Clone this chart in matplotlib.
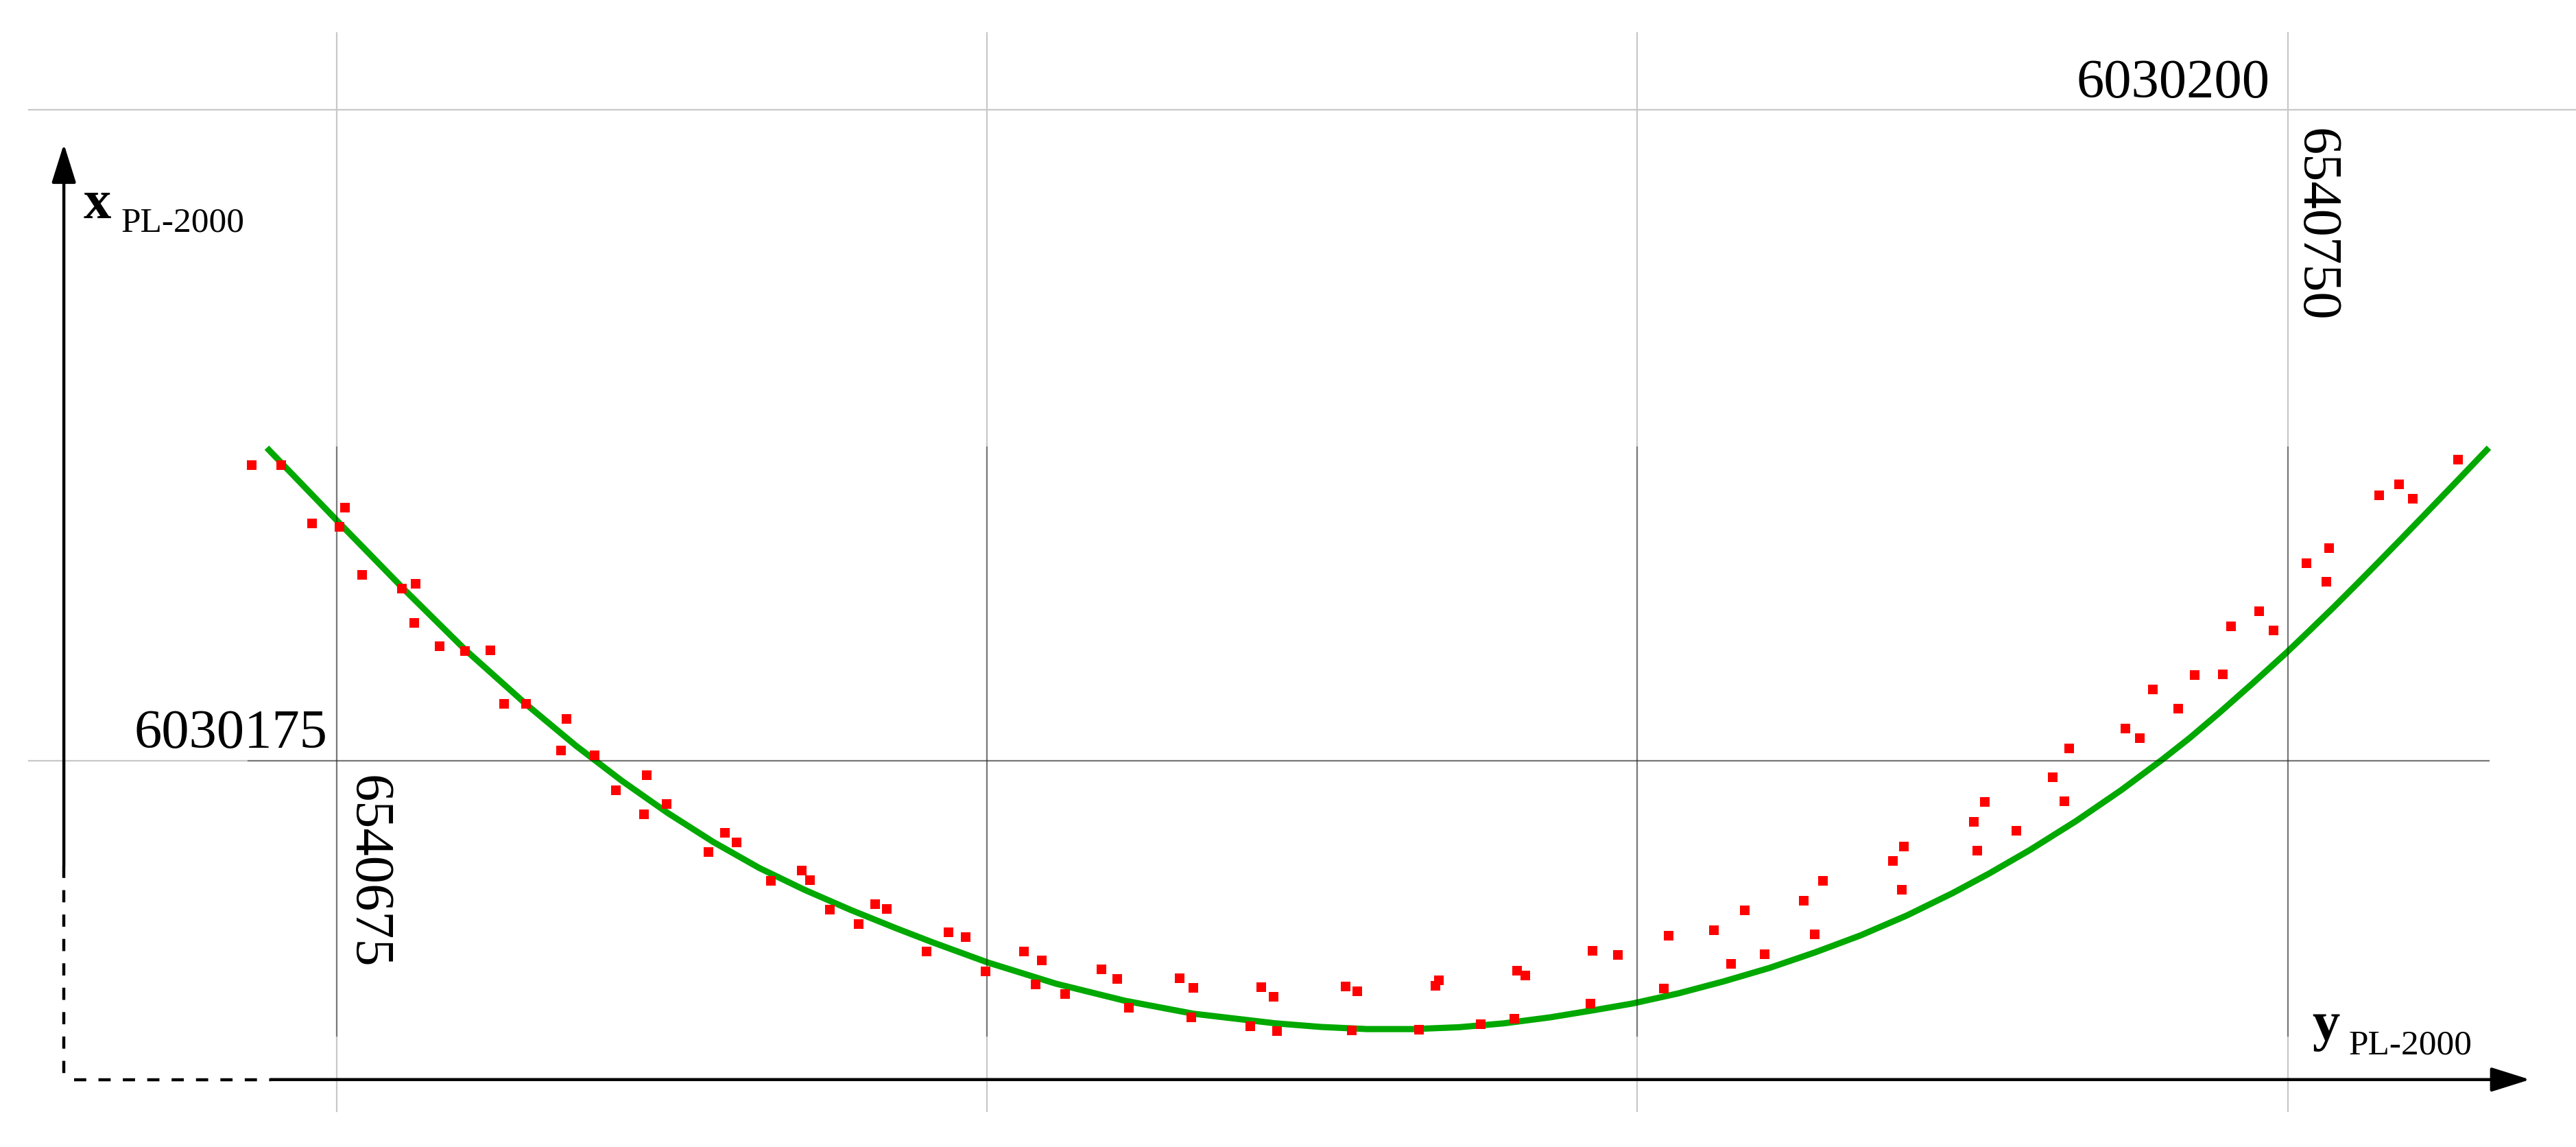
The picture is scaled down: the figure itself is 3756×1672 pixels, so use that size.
import numpy as np
import matplotlib.pyplot as plt

# grid origin in PL-2000 (metres)
E0 = 6540675   # y PL-2000, horizontal
N0 = 6030175   # x PL-2000, vertical

grid_e = [6540675, 6540700, 6540725, 6540750]
grid_n = [6030175, 6030200]

# surveyed points (offsets from the grid origin, m)
pt_e = [-3.27, -2.14, -0.95, 0.32, 0.11, 0.98, 2.50, 3.03, 2.98, 3.95,
        4.93, 5.91, 6.43, 7.28, 8.83, 8.62, 9.91, 11.92, 10.73, 12.68,
        11.81, 14.92, 15.37, 14.29, 16.69, 17.88, 18.19, 18.96, 20.06, 20.70,
        21.14, 22.67, 23.52, 24.18, 24.94, 26.42, 27.10, 26.87, 28.00, 29.40,
        30.00, 30.45, 32.40, 32.93, 32.85, 35.54, 36.01, 35.12, 36.15, 38.78,
        39.23, 39.02, 41.60, 42.37, 42.24, 43.98, 45.37, 45.69, 45.27, 48.27,
        49.25, 48.19, 51.20, 51.02, 52.94, 53.60, 54.13, 54.89, 56.39, 57.13,
        56.82, 59.82, 60.24, 60.16, 62.93, 63.35, 63.06, 64.57, 65.96, 66.41,
        66.60, 68.76, 69.31, 69.81, 70.79, 71.42, 72.50, 72.82, 73.90, 74.45,
        75.72, 76.48, 76.59, 78.51, 79.28, 79.80, 81.55]
pt_n = [11.36, 11.36, 9.12, 9.72, 8.99, 7.14, 6.61, 6.80, 5.30, 4.40,
        4.22, 4.24, 2.19, 2.19, 1.61, 0.40, 0.21, -0.55, -1.13, -1.66,
        -2.06, -2.77, -3.14, -3.50, -4.61, -4.22, -4.59, -5.72, -6.27, -5.51,
        -5.69, -7.33, -6.59, -6.77, -8.09, -7.33, -7.67, -8.59, -8.96, -8.01,
        -8.38, -9.49, -8.35, -8.72, -9.86, -8.70, -9.06, -10.20, -10.38, -8.67,
        -8.85, -10.36, -10.33, -8.43, -8.64, -10.12, -8.06, -8.25, -9.91, -7.30,
        -7.46, -9.33, -6.72, -8.75, -6.51, -7.80, -5.74, -7.43, -5.38, -4.61,
        -6.67, -3.85, -3.29, -4.95, -2.35, -1.58, -3.45, -2.69, -0.63, -1.55,
        0.47, 1.24, 0.87, 2.74, 2.00, 3.29, 3.32, 5.16, 5.74, 5.01,
        7.59, 6.88, 8.17, 10.20, 10.62, 10.07, 11.57]

# fitted curve
curve_e = [-2.69, 0.05, 2.53, 4.93, 7.30, 9.20, 10.97, 12.71, 14.47, 16.24,
           17.98, 19.75, 21.51, 22.91, 25.02, 27.66, 30.29, 32.93, 36.09, 37.86,
           39.60, 41.37, 43.13, 44.87, 46.64, 48.41, 49.80, 51.57, 53.31, 55.08,
           56.84, 58.58, 60.35, 62.11, 63.51, 65.09, 66.86, 68.60, 70.16, 71.24,
           72.37, 73.66, 74.95, 75.86, 76.77, 77.64, 78.51, 79.40, 80.28, 81.60,
           82.73]
curve_n = [12.02, 9.18, 6.64, 4.27, 2.15, 0.57, -0.78, -2.00, -3.12, -4.12,
           -4.96, -5.73, -6.44, -6.98, -7.75, -8.57, -9.22, -9.72, -10.09, -10.23,
           -10.31, -10.31, -10.24, -10.09, -9.86, -9.57, -9.33, -8.94, -8.48, -7.96,
           -7.36, -6.71, -5.95, -5.09, -4.34, -3.43, -2.32, -1.13, 0.03, 0.88,
           1.84, 2.98, 4.15, 5.02, 5.90, 6.77, 7.65, 8.56, 9.47, 10.84,
           12.02]

pt_e = E0 + np.array(pt_e)
pt_n = N0 + np.array(pt_n)
curve_e = E0 + np.array(curve_e)
curve_n = N0 + np.array(curve_n)

fig = plt.figure(figsize=(37.56, 16.72), dpi=100)
ax = fig.add_axes([0, 0, 1, 1])
ax.set_xlim(E0 - 12.945, E0 + 86.08)
ax.set_ylim(N0 - 14.84, N0 + 29.22)
ax.axis('off')

serif = 'Liberation Serif'

# light grid lines
for e in grid_e:
    ax.plot([e, e], [N0 - 13.47, N0 + 27.96], color='#c8c8c8', lw=1.6, zorder=1)
ax.plot([E0 - 11.84, E0 + 86.1], [grid_n[1]] * 2, color='#c8c8c8', lw=1.6, zorder=1)
ax.plot([E0 - 11.84, E0 + 82.73], [grid_n[0]] * 2, color='#c8c8c8', lw=1.6, zorder=1)

# darker grid inside the data box
box_e = (E0 - 3.40, E0 + 82.73)
box_n = (N0 - 10.57, N0 + 12.04)
for e in grid_e:
    ax.plot([e, e], box_n, color='k', alpha=0.4, lw=1.6, zorder=3)
ax.plot(box_e, [grid_n[0]] * 2, color='k', alpha=0.4, lw=1.6, zorder=3)

# curve and points
ax.plot(curve_e, curve_n, color='#00a800', lw=6.5, solid_capstyle='butt',
        solid_joinstyle='round', zorder=2)
ax.plot(pt_e, pt_n, 's', color='#ff0000', markersize=10.5, markeredgewidth=0, zorder=4)

# axis arrows
ax_e = E0 - 10.49
ax_n = N0 - 12.25
arrow = dict(arrowstyle='-|>,head_length=3.5,head_width=1.1', color='k', lw=3.2,
             shrinkA=0, shrinkB=0, mutation_scale=10)
ax.annotate('', xy=(ax_e, N0 + 23.69), xytext=(ax_e, N0 - 4.03), arrowprops=arrow, zorder=5)
ax.annotate('', xy=(E0 + 84.31, ax_n), xytext=(E0 - 2.53, ax_n), arrowprops=arrow, zorder=5)
ax.plot([ax_e, ax_e], [N0 - 4.03, N0 - 12.12], color='k', lw=3.2,
        dashes=[4.0, 4.0], zorder=5)
ax.plot([E0 - 10.10, E0 - 2.53], [ax_n, ax_n], color='k', lw=3.2,
        dashes=[4.0, 4.0], zorder=5)

# axis names
ax.text(E0 - 9.73, N0 + 20.84, 'x', fontsize=58, fontweight='bold', family=serif,
        ha='left', va='baseline')
ax.text(E0 - 8.28, N0 + 20.32, 'PL-2000', fontsize=37, family=serif,
        ha='left', va='baseline')
ax.text(E0 + 75.93, N0 - 10.72, 'y', fontsize=58, fontweight='bold', family=serif,
        ha='left', va='baseline')
ax.text(E0 + 77.35, N0 - 11.28, 'PL-2000', fontsize=37, family=serif,
        ha='left', va='baseline')

# grid labels
ax.text(grid_e[3] - 0.68, grid_n[1] + 0.48, str(grid_n[1]), fontsize=58, family=serif,
        ha='right', va='baseline')
ax.text(grid_e[0] - 0.37, grid_n[0] + 0.50, str(grid_n[0]), fontsize=58, family=serif,
        ha='right', va='baseline')
ax.text(grid_e[0] + 0.20, grid_n[0] - 0.55, str(grid_e[0]), fontsize=58, family=serif,
        rotation=270, ha='left', va='top')
ax.text(grid_e[3] + 0.08, grid_n[1] - 0.71, str(grid_e[3]), fontsize=58, family=serif,
        rotation=270, ha='left', va='top')

fig.savefig('out.png', dpi=100)
